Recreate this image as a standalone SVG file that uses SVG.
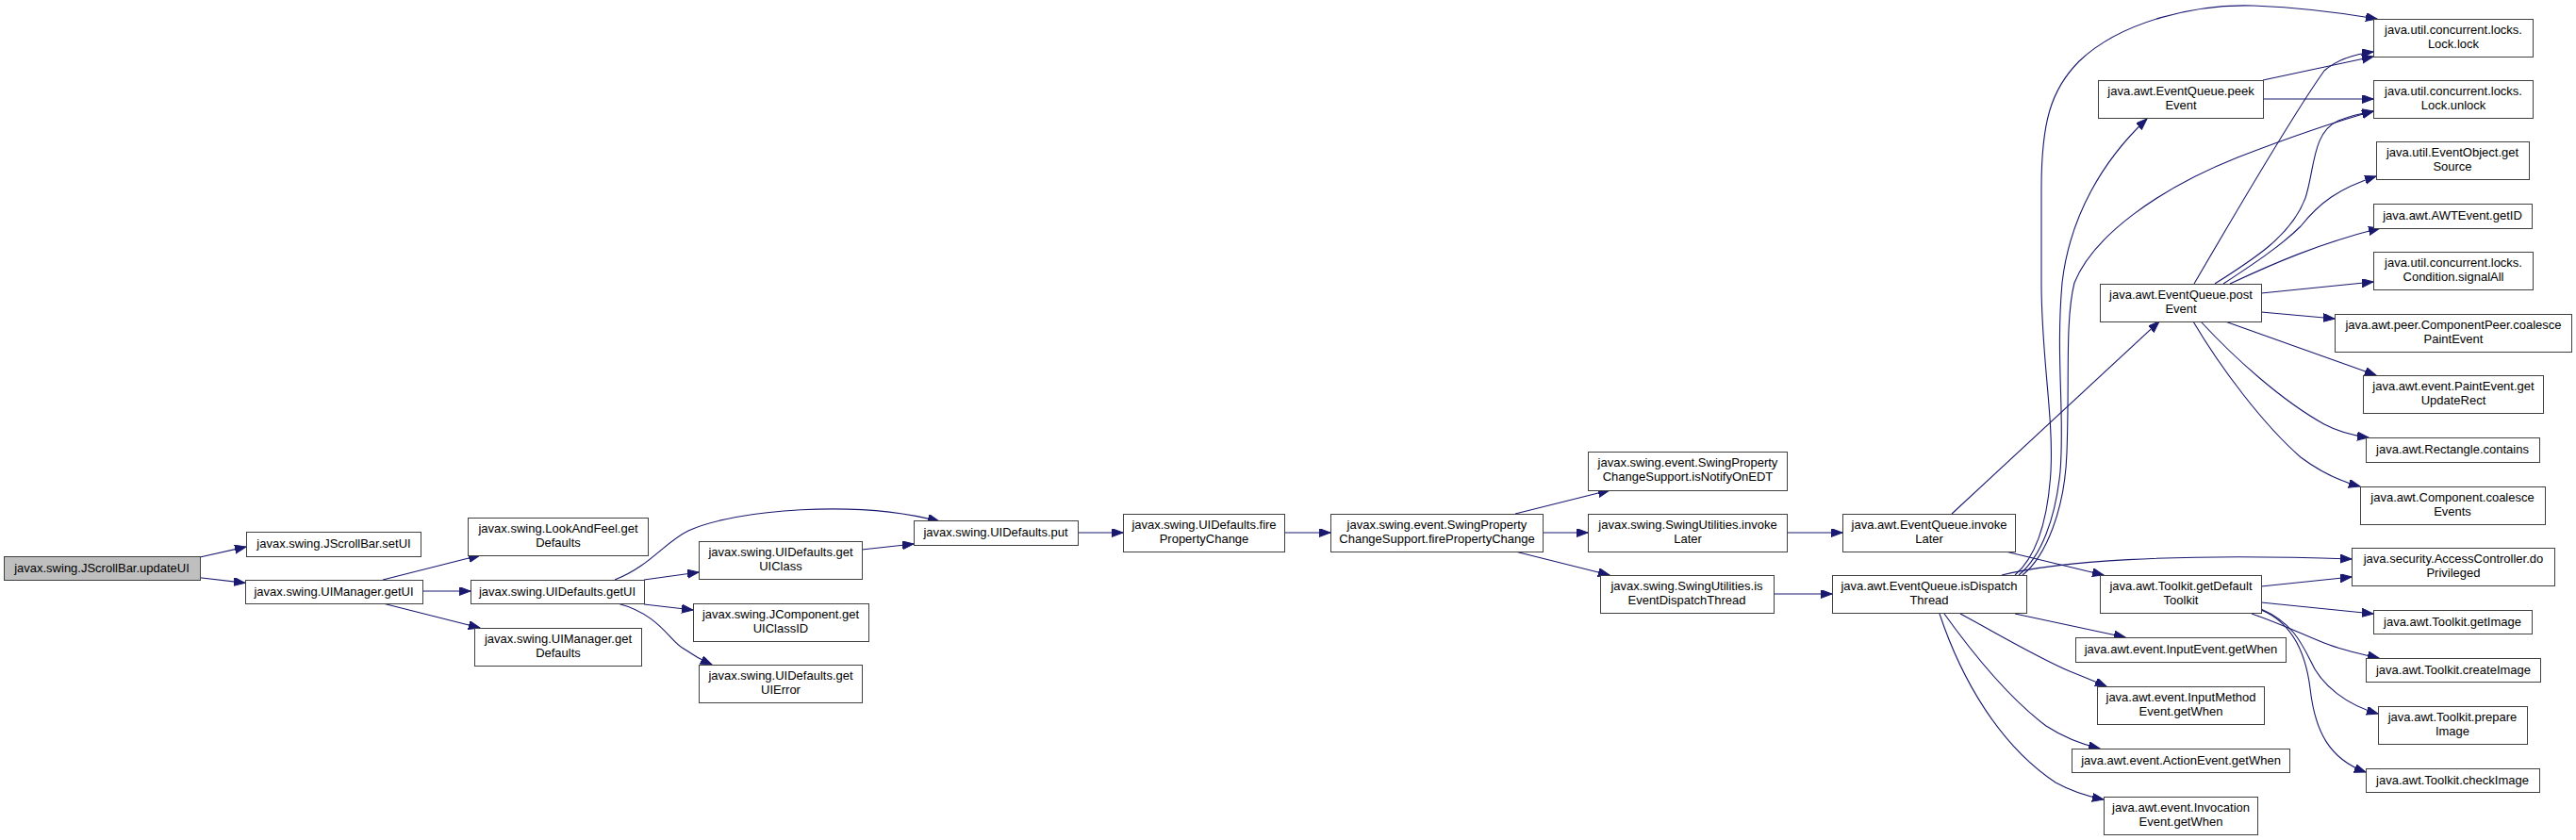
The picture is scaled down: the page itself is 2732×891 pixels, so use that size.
<svg xmlns="http://www.w3.org/2000/svg" width="2732" height="891" viewBox="0 0 2732 891">
<style>
.node rect{fill:#ffffff;stroke:#404040;stroke-width:1}
.root rect{fill:#bfbfbf}
.node text{font-family:"Liberation Sans",Arial,sans-serif;font-size:13px;text-anchor:middle;fill:#000}
.edges path{fill:none;stroke:#191970;stroke-width:1.1;marker-end:url(#arr)}
</style>
<defs>
<marker id="arr" markerUnits="userSpaceOnUse" markerWidth="14" markerHeight="10" refX="12" refY="4.5" orient="auto" viewBox="0 0 14 10">
<path d="M0,0 L12,4.5 L0,9 z" fill="#191970" stroke="#191970" stroke-width="1"/>
</marker>
</defs>
<rect width="2732" height="891" fill="#ffffff"/>
<g class="edges" id="edges">
<path d="M212,591 L261,580"/>
<path d="M212,612.7 L260,618.3"/>
<path d="M406,615 L509,589"/>
<path d="M448,627 L499,627"/>
<path d="M406,640 L509,666"/>
<path d="M652,615 C690,600 705,575 730,563 C780,540 910,530 996,553"/>
<path d="M683,615 L741,607"/>
<path d="M683,641 L735,647"/>
<path d="M655,640 C700,652 710,680 725,688 C735,695 744,700 755,705"/>
<path d="M914,583 L969,577"/>
<path d="M1143,565 L1191,565"/>
<path d="M1362,565 L1411,565"/>
<path d="M1607,545 L1707,520"/>
<path d="M1636,565 L1684,565"/>
<path d="M1607,585 L1707,610"/>
<path d="M1895,565 L1954,565"/>
<path d="M1881,630 L1943,630"/>
<path d="M2070,545 L2290,341"/>
<path d="M2127,585 L2231,610"/>
<path d="M2137,610 C2160,590 2172,550 2175,500 C2178,440 2165,380 2165,300 L2165,200 C2165,130 2175,95 2205,65 C2250,22 2330,4 2390,6 C2440,8 2480,13 2521,20"/>
<path d="M2141,610 C2165,590 2180,550 2185,500 C2190,440 2180,380 2187,300 C2195,230 2230,170 2277,126"/>
<path d="M2145,610 C2170,590 2190,540 2192,480 C2195,400 2190,340 2200,300 C2220,250 2290,200 2373,167 C2430,145 2480,128 2517,118"/>
<path d="M2123,610 C2180,596 2300,586 2494,593"/>
<path d="M2137,651 L2254,676"/>
<path d="M2079,651 C2120,673 2160,697 2195,712 C2210,718 2222,723 2234,728"/>
<path d="M2062,651 C2090,690 2130,740 2170,770 C2190,783 2210,790 2227,794"/>
<path d="M2057,651 C2080,720 2120,790 2180,830 C2200,841 2215,845 2231,848"/>
<path d="M2398,622 L2494,612"/>
<path d="M2398,639 L2517,651"/>
<path d="M2388,651 C2420,662 2440,672 2465,682 C2485,690 2505,694 2523,698"/>
<path d="M2398,646 C2430,660 2440,680 2450,700 C2462,728 2490,748 2522,757"/>
<path d="M2398,647 C2430,660 2445,690 2450,730 C2455,775 2470,805 2509,819"/>
<path d="M2400,85 L2517,60"/>
<path d="M2400,105 L2517,105"/>
<path d="M2327,301 C2380,210 2440,110 2465,75 C2480,62 2500,57 2517,55"/>
<path d="M2349,301 C2390,275 2430,250 2445,210 C2455,180 2452,140 2480,128 C2495,122 2505,120 2517,118"/>
<path d="M2358,301 C2390,280 2420,260 2440,240 C2460,215 2480,200 2520,187"/>
<path d="M2365,301 C2410,280 2460,258 2524,242"/>
<path d="M2398,311 L2517,299"/>
<path d="M2398,331 L2476,338"/>
<path d="M2360,341 L2520,398"/>
<path d="M2334,341 C2370,380 2420,425 2465,450 C2480,458 2495,462 2512,464"/>
<path d="M2326,341 C2355,390 2400,450 2440,485 C2460,500 2480,510 2503,516"/>
</g>
<g class="node root" id="n0"><rect x="4.5" y="590.5" width="208" height="25"/><text x="108" y="607">javax.swing.JScrollBar.updateUI</text></g>
<g class="node" id="n1"><rect x="261.5" y="564.5" width="185" height="26"/><text x="354" y="581">javax.swing.JScrollBar.setUI</text></g>
<g class="node" id="n2"><rect x="260.5" y="615.5" width="188" height="25"/><text x="354" y="632">javax.swing.UIManager.getUI</text></g>
<g class="node" id="n3"><rect x="496.5" y="549.5" width="191" height="40"/><text x="592" y="565">javax.swing.LookAndFeel.get</text><text x="592" y="580">Defaults</text></g>
<g class="node" id="n4"><rect x="499.5" y="615.5" width="184" height="25"/><text x="591" y="632">javax.swing.UIDefaults.getUI</text></g>
<g class="node" id="n5"><rect x="503.5" y="666.5" width="177" height="40"/><text x="592" y="682">javax.swing.UIManager.get</text><text x="592" y="697">Defaults</text></g>
<g class="node" id="n6"><rect x="969.5" y="552.5" width="174" height="26"/><text x="1056" y="569">javax.swing.UIDefaults.put</text></g>
<g class="node" id="n7"><rect x="741.5" y="574.5" width="173" height="40"/><text x="828" y="590">javax.swing.UIDefaults.get</text><text x="828" y="605">UIClass</text></g>
<g class="node" id="n8"><rect x="735.5" y="640.5" width="186" height="40"/><text x="828" y="656">javax.swing.JComponent.get</text><text x="828" y="671">UIClassID</text></g>
<g class="node" id="n9"><rect x="741.5" y="705.5" width="173" height="40"/><text x="828" y="721">javax.swing.UIDefaults.get</text><text x="828" y="736">UIError</text></g>
<g class="node" id="n10"><rect x="1191.5" y="545.5" width="171" height="40"/><text x="1277" y="561">javax.swing.UIDefaults.fire</text><text x="1277" y="576">PropertyChange</text></g>
<g class="node" id="n11"><rect x="1411.5" y="545.5" width="225" height="40"/><text x="1524" y="561">javax.swing.event.SwingProperty</text><text x="1524" y="576">ChangeSupport.firePropertyChange</text></g>
<g class="node" id="n12"><rect x="1684.5" y="479.5" width="211" height="41"/><text x="1790" y="495">javax.swing.event.SwingProperty</text><text x="1790" y="510">ChangeSupport.isNotifyOnEDT</text></g>
<g class="node" id="n13"><rect x="1684.5" y="545.5" width="211" height="40"/><text x="1790" y="561">javax.swing.SwingUtilities.invoke</text><text x="1790" y="576">Later</text></g>
<g class="node" id="n14"><rect x="1697.5" y="610.5" width="184" height="40"/><text x="1789" y="626">javax.swing.SwingUtilities.is</text><text x="1789" y="641">EventDispatchThread</text></g>
<g class="node" id="n15"><rect x="1954.5" y="545.5" width="183" height="40"/><text x="2046" y="561">java.awt.EventQueue.invoke</text><text x="2046" y="576">Later</text></g>
<g class="node" id="n16"><rect x="1943.5" y="610.5" width="206" height="40"/><text x="2046" y="626">java.awt.EventQueue.isDispatch</text><text x="2046" y="641">Thread</text></g>
<g class="node" id="n17"><rect x="2227.5" y="301.5" width="171" height="40"/><text x="2313" y="317">java.awt.EventQueue.post</text><text x="2313" y="332">Event</text></g>
<g class="node" id="n18"><rect x="2227.5" y="610.5" width="171" height="40"/><text x="2313" y="626">java.awt.Toolkit.getDefault</text><text x="2313" y="641">Toolkit</text></g>
<g class="node" id="n19"><rect x="2517.5" y="20.5" width="169" height="40"/><text x="2602" y="36">java.util.concurrent.locks.</text><text x="2602" y="51">Lock.lock</text></g>
<g class="node" id="n20"><rect x="2517.5" y="85.5" width="169" height="40"/><text x="2602" y="101">java.util.concurrent.locks.</text><text x="2602" y="116">Lock.unlock</text></g>
<g class="node" id="n21"><rect x="2225.5" y="85.5" width="175" height="40"/><text x="2313" y="101">java.awt.EventQueue.peek</text><text x="2313" y="116">Event</text></g>
<g class="node" id="n22"><rect x="2520.5" y="150.5" width="162" height="40"/><text x="2601" y="166">java.util.EventObject.get</text><text x="2601" y="181">Source</text></g>
<g class="node" id="n23"><rect x="2517.5" y="216.5" width="168" height="26"/><text x="2601" y="233">java.awt.AWTEvent.getID</text></g>
<g class="node" id="n24"><rect x="2517.5" y="267.5" width="169" height="40"/><text x="2602" y="283">java.util.concurrent.locks.</text><text x="2602" y="298">Condition.signalAll</text></g>
<g class="node" id="n25"><rect x="2476.5" y="333.5" width="251" height="40"/><text x="2602" y="349">java.awt.peer.ComponentPeer.coalesce</text><text x="2602" y="364">PaintEvent</text></g>
<g class="node" id="n26"><rect x="2506.5" y="398.5" width="191" height="40"/><text x="2602" y="414">java.awt.event.PaintEvent.get</text><text x="2602" y="429">UpdateRect</text></g>
<g class="node" id="n27"><rect x="2509.5" y="464.5" width="184" height="26"/><text x="2601" y="481">java.awt.Rectangle.contains</text></g>
<g class="node" id="n28"><rect x="2503.5" y="516.5" width="196" height="40"/><text x="2601" y="532">java.awt.Component.coalesce</text><text x="2601" y="547">Events</text></g>
<g class="node" id="n29"><rect x="2494.5" y="581.5" width="215" height="40"/><text x="2602" y="597">java.security.AccessController.do</text><text x="2602" y="612">Privileged</text></g>
<g class="node" id="n30"><rect x="2517.5" y="647.5" width="168" height="25"/><text x="2601" y="664">java.awt.Toolkit.getImage</text></g>
<g class="node" id="n31"><rect x="2201.5" y="676.5" width="223" height="26"/><text x="2313" y="693">java.awt.event.InputEvent.getWhen</text></g>
<g class="node" id="n32"><rect x="2509.5" y="698.5" width="185" height="25"/><text x="2602" y="715">java.awt.Toolkit.createImage</text></g>
<g class="node" id="n33"><rect x="2224.5" y="728.5" width="177" height="40"/><text x="2313" y="744">java.awt.event.InputMethod</text><text x="2313" y="759">Event.getWhen</text></g>
<g class="node" id="n34"><rect x="2522.5" y="749.5" width="158" height="40"/><text x="2601" y="765">java.awt.Toolkit.prepare</text><text x="2601" y="780">Image</text></g>
<g class="node" id="n35"><rect x="2197.5" y="794.5" width="231" height="25"/><text x="2313" y="811">java.awt.event.ActionEvent.getWhen</text></g>
<g class="node" id="n36"><rect x="2509.5" y="815.5" width="184" height="25"/><text x="2601" y="832">java.awt.Toolkit.checkImage</text></g>
<g class="node" id="n37"><rect x="2231.5" y="845.5" width="163" height="40"/><text x="2313" y="861">java.awt.event.Invocation</text><text x="2313" y="876">Event.getWhen</text></g>
</svg>
